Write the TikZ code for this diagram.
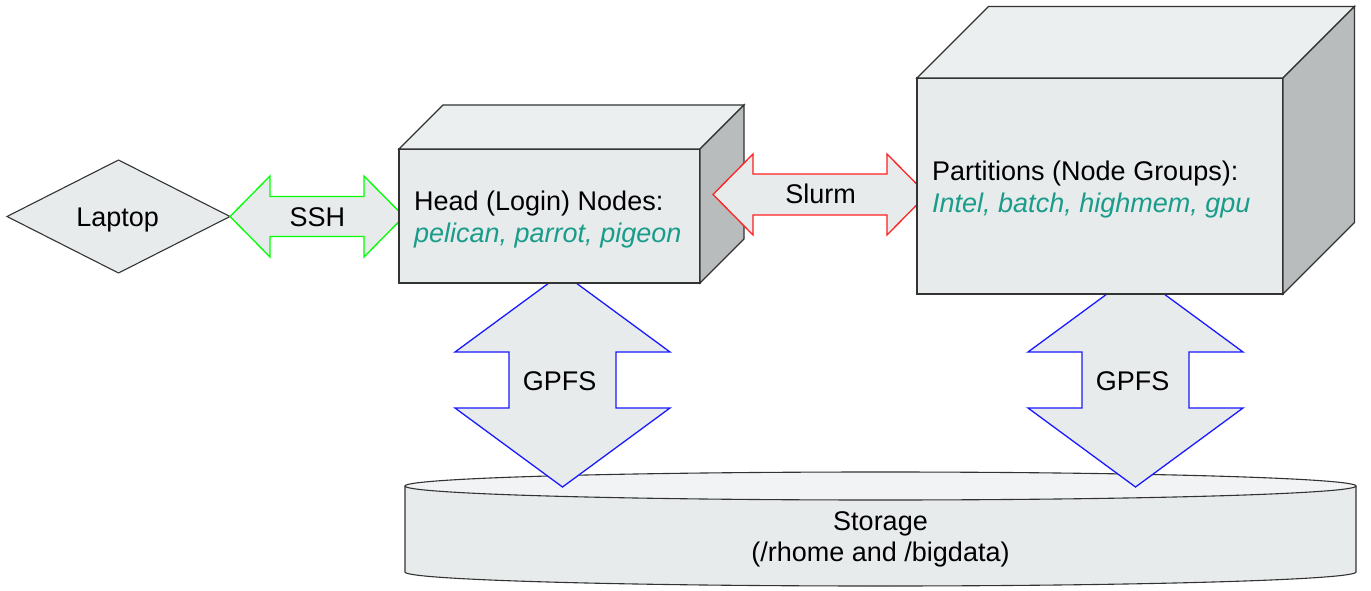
\documentclass[tikz,border=0pt]{standalone}
\usepackage{fontspec}
\setmainfont{Liberation Sans}
\usetikzlibrary{shapes.geometric,calc}
\definecolor{boxfill}{HTML}{E8EBEC}
\definecolor{topfill}{HTML}{ECEFF0}
\definecolor{sidefill}{HTML}{B9BCBD}
\definecolor{edgecol}{HTML}{333333}
\definecolor{tealtext}{HTML}{1A9C8A}
\definecolor{cyltop}{HTML}{F2F3F4}
\definecolor{sshgreen}{HTML}{00FF00}
\definecolor{slurmred}{HTML}{FF2020}
\definecolor{gpfsblue}{HTML}{1A1AFF}
\begin{document}
\begin{tikzpicture}[x=1pt,y=-1pt,
  font=\fontsize{27}{32}\selectfont,
  face/.style={draw=edgecol, line width=1.3pt, line join=miter},
  frontbox/.style={face, fill=boxfill, rectangle, inner sep=0pt, outer sep=0pt},
  blockarrow/.style={fill=boxfill, line width=1.3pt, line join=miter},
  lbl/.style={inner sep=0pt, anchor=base west},
  sublbl/.style={lbl, text=tealtext, font=\fontsize{27}{32}\selectfont\itshape},
  midlbl/.style={inner sep=0pt, anchor=base},
]
\useasboundingbox (0,0) rectangle (1371,591);

% ---------- storage cylinder ----------
\node[inner sep=0pt, outer sep=0pt, minimum width=951, minimum height=86] (storage) at (880.5,529) {};
\path[fill=boxfill, draw=edgecol, line width=1.1pt]
  (storage.north west) -- (storage.south west)
  arc[start angle=180, end angle=0, x radius=475.5, y radius=14]
  -- (storage.north east);
\path[fill=cyltop, draw=edgecol, line width=1.1pt] (storage.north) ellipse[x radius=475.5, y radius=14];
\node[midlbl] (storA) at (880.5,530) {Storage};
\node[midlbl] (storB) at (880.5,561) {(/rhome and /bigdata)};

% ---------- GPFS arrows ----------
\coordinate (gL) at (562.5,380);
\coordinate (gR) at (1135.5,380);
\foreach \c in {gL,gR}{
  \draw[blockarrow, draw=gpfsblue] ($(\c)+(0,-107)$) -- ++(107.5,79) -- ++(-54,0) -- ++(0,56) -- ++(54,0)
    -- ++(-107.5,79) -- ++(-107.5,-79) -- ++(54,0) -- ++(0,-56) -- ++(-54,0) -- cycle;
}
\node[midlbl] (gpfsL) at (559.5,390) {GPFS};
\node[midlbl] (gpfsR) at (1132.5,390) {GPFS};

% ---------- laptop ----------
\node[diamond, draw=edgecol, fill=boxfill, line width=1.1pt, inner sep=0pt, outer sep=0pt,
      minimum width=223, minimum height=113, aspect=2] (laptop) at (118.5,216.5) {};
\node[midlbl] (laptopT) at (117.7,226.7) {Laptop};

% ---------- SSH arrow ----------
\draw[blockarrow, draw=sshgreen] (laptop.east) -- ++(40,-40.5) -- ++(0,20.5) -- ++(94,0) -- ++(0,-20.5)
  -- ++(40,40.5) -- ++(-40,40.5) -- ++(0,-20.5) -- ++(-94,0) -- ++(0,20.5) -- cycle;
\node[midlbl] (sshT) at (317.3,226) {SSH};

% ---------- head box ----------
\node[frontbox, minimum width=301, minimum height=134] (head) at (549.5,216) {};
\draw[face, fill=topfill] (head.north west) -- ++(44,-44) -- ++(301,0) -- (head.north east) -- cycle;
\draw[face, fill=sidefill] (head.north east) -- ++(44,-44) -- ++(0,134) -- (head.south east) -- cycle;
\node[lbl] (headA) at (414,210.5) {Head (Login) Nodes:};
\node[sublbl] (headB) at (414,242.5) {pelican, parrot, pigeon};

% ---------- Slurm arrow ----------
\coordinate (slurmL) at (713,194.5);
\draw[blockarrow, draw=slurmred] (slurmL) -- ++(40,-40.5) -- ++(0,20) -- ++(134,0) -- ++(0,-20)
  -- ++(40,40.5) -- ++(-40,40.5) -- ++(0,-20) -- ++(-134,0) -- ++(0,20) -- cycle;
\node[midlbl] (slurmT) at (820.5,204) {Slurm};

% ---------- partitions box ----------
\node[frontbox, minimum width=366, minimum height=216] (part) at (1100,186) {};
\draw[face, fill=topfill] (part.north west) -- ++(71.5,-71.5) -- ++(366,0) -- (part.north east) -- cycle;
\draw[face, fill=sidefill] (part.north east) -- ++(71.5,-71.5) -- ++(0,216) -- (part.south east) -- cycle;
\node[lbl] (partA) at (932,180) {Partitions (Node Groups):};
\node[sublbl] (partB) at (932,212) {Intel, batch, highmem, gpu};
\end{tikzpicture}
\end{document}
